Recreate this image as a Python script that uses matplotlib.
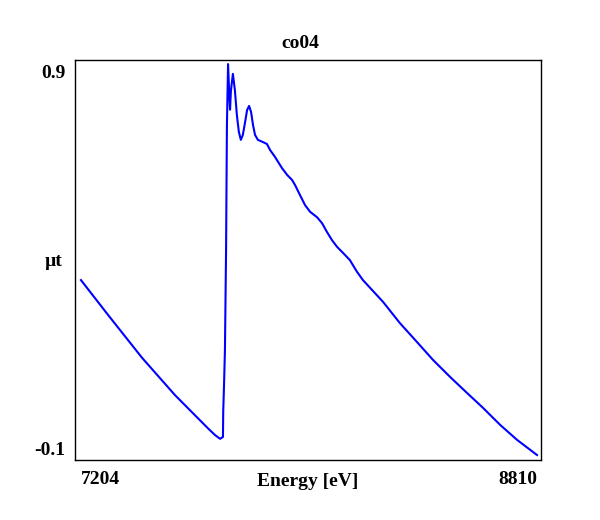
import matplotlib
matplotlib.use("Agg")
import matplotlib.pyplot as plt

energy = [7204, 7299, 7419, 7535, 7651, 7676, 7694, 7704, 7705, 7708, 7711, 7715,
          7718, 7722, 7727, 7729, 7732, 7739, 7746, 7753, 7760, 7767, 7774, 7782,
          7789, 7796, 7803, 7810, 7817, 7827, 7845, 7859, 7870, 7887, 7912, 7930,
          7947, 7958, 7975, 7993, 8011, 8035, 8053, 8070, 8088, 8106, 8127, 8151,
          8176, 8197, 8268, 8327, 8387, 8444, 8504, 8563, 8620, 8680, 8740, 8810]
mut = [0.348, 0.256, 0.142, 0.043, -0.045, -0.063, -0.073, -0.068, 0.000, 0.075,
       0.163, 0.428, 0.759, 0.921, 0.826, 0.800, 0.850, 0.895, 0.852, 0.786,
       0.741, 0.720, 0.733, 0.767, 0.799, 0.810, 0.794, 0.759, 0.733, 0.720,
       0.714, 0.709, 0.693, 0.675, 0.645, 0.627, 0.614, 0.600, 0.574, 0.547,
       0.529, 0.515, 0.499, 0.476, 0.454, 0.436, 0.420, 0.401, 0.370, 0.348,
       0.290, 0.234, 0.184, 0.136, 0.091, 0.049, 0.009, -0.036, -0.076, -0.116]

title = "co04"
xlabel = "Energy [eV]"
ylabel = "µt"
xtick_vals = [7204, 8810]
xtick_labels = ["7204", "8810"]
ytick_vals = [0.9, -0.1]
ytick_labels = ["0.9", "-0.1"]

font = ["Liberation Serif", "DejaVu Serif"]
fs = 14

fig = plt.figure(figsize=(6.0, 5.2), dpi=100)
ax = fig.add_axes([75/600, 1-460/520, 466/600, 400/520])
ax.plot(energy, mut, color="#0000ff", lw=1.5)
ax.set_xlim(7183, 8824)
ax.set_ylim(-0.1292, 0.9318)

ax.set_xticks(xtick_vals)
ax.set_xticklabels(xtick_labels, fontfamily=font, fontweight="bold", fontsize=fs)
labs = ax.get_xticklabels()
labs[0].set_ha("left")
labs[1].set_ha("right")
ax.set_yticks(ytick_vals)
ax.set_yticklabels(ytick_labels, fontfamily=font, fontweight="bold", fontsize=fs)
ax.tick_params(axis="both", length=0)
ax.tick_params(axis="x", pad=8)
ax.tick_params(axis="y", pad=7)

ax.set_ylabel(ylabel, rotation=0, fontfamily=font, fontweight="bold", fontsize=fs,
              ha="right", va="center")
ax.yaxis.set_label_coords(-0.028, 0.495)
ax.text(0.5, -21/400, xlabel, transform=ax.transAxes, ha="center", va="center",
        fontfamily=font, fontweight="bold", fontsize=fs)
fig.text(0.5, 1-43/520, title, ha="center", va="center",
         fontfamily=font, fontweight="bold", fontsize=fs)

for s in ax.spines.values():
    s.set_linewidth(1.0)
    s.set_color("black")

fig.savefig("out.png", dpi=100)
